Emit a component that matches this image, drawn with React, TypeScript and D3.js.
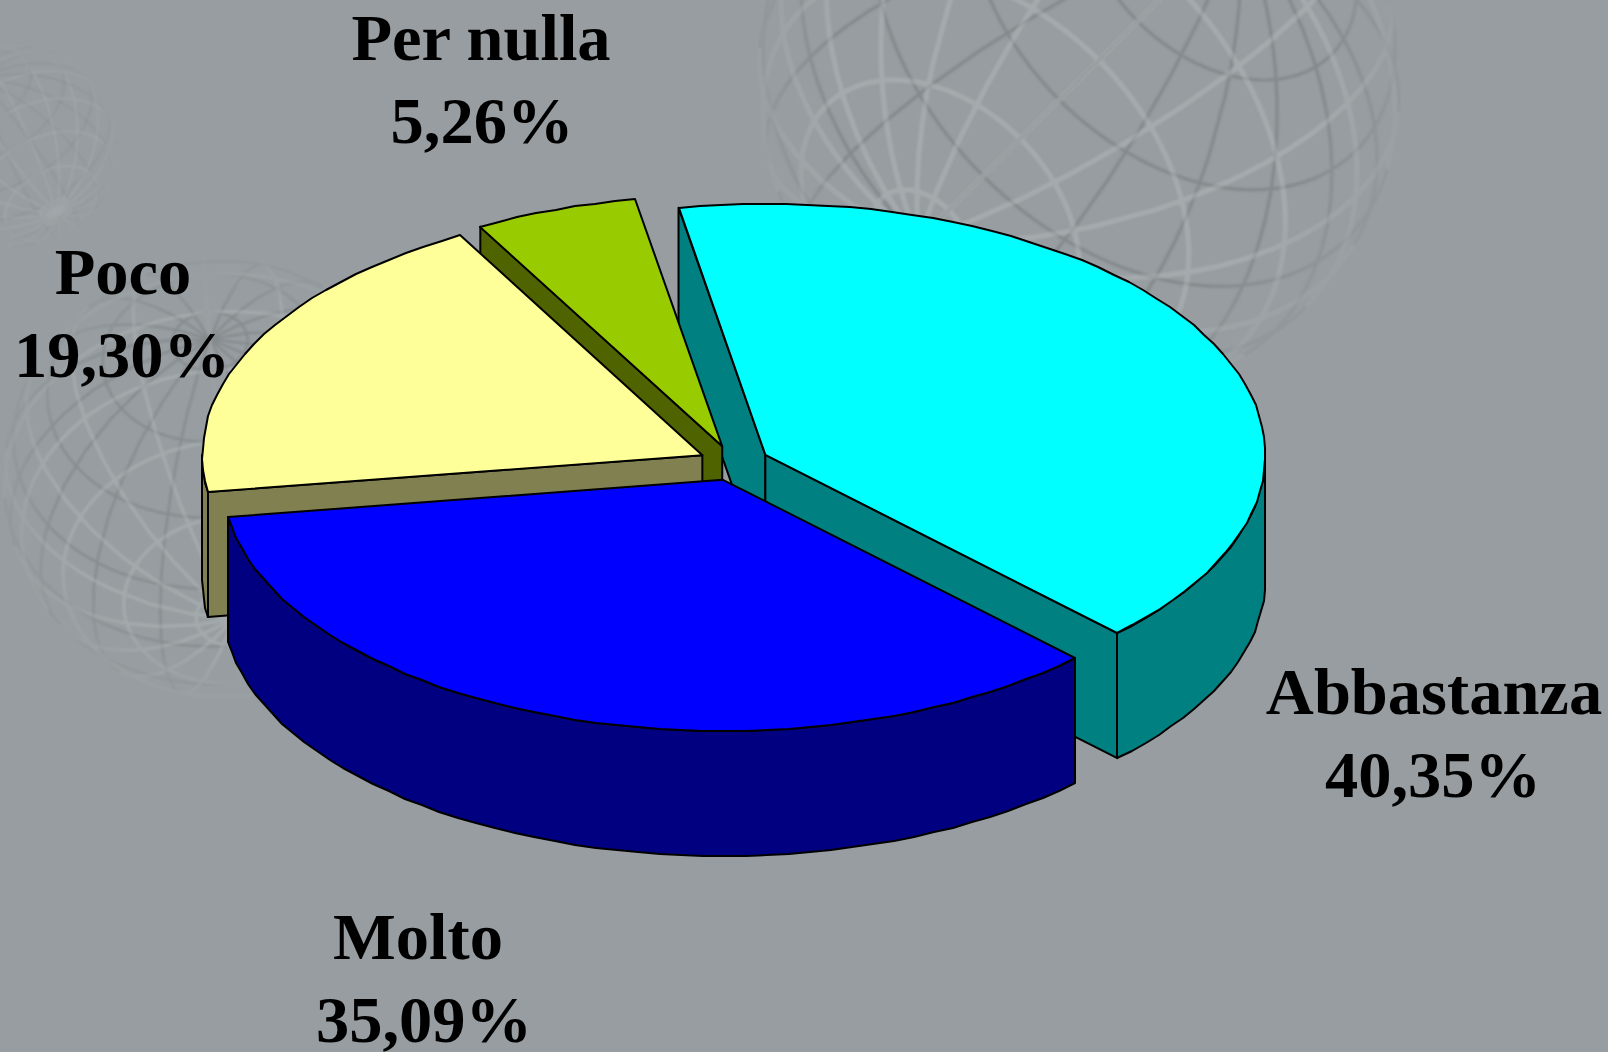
import React from "react";
import * as d3 from "d3";

const categories = ["Abbastanza", "Molto", "Poco", "Per nulla"];
const values = [40.35, 35.09, 19.3, 5.26];
const valueLabels = ["40,35%", "35,09%", "19,30%", "5,26%"];
const topColors = ["#00FFFF", "#0000FF", "#FFFF99", "#99CC00"];
const sideColors = ["#008080", "#000080", "#808050", "#4F6300"];
// painter's order: back slices first
const drawOrder = [0, 3, 2, 1];

const W = 1608, H = 1052;
const CX = 734, CY = 463, RX = 500, RY = 251, DEPTH = 125, EXPLODE = 0.0706;
const labelPos = [
  { x: 1434, y: 714, dx2: -1 },
  { x: 418, y: 959, dx2: 6 },
  { x: 123, y: 294, dx2: -1 },
  { x: 481, y: 60, dx2: 1 },
];
const globes = [
  { cx: 1079, cy: 80, r: 321, rotate: [0, 45, -45], o: 1 },
  { cx: 222, cy: 479, r: 218, rotate: [20, 50, 5], o: 0.95 },
  { cx: 18, cy: 146, r: 100, rotate: [10, 40, 30], o: 0.7 },
];

const rad = (d: number) => (d * Math.PI) / 180;
const line = d3.line();
const pie = d3.pie<number>().sort(null).startAngle(rad(-10)).endAngle(rad(350));
const arcs = pie(values);

function rimPoints(cx: number, cy: number, a0: number, a1: number, dy = 0): [number, number][] {
  const n = Math.max(1, Math.ceil((a1 - a0) / rad(2.5)));
  return d3.range(n + 1).map((i) => {
    const a = a0 + ((a1 - a0) * i) / n;
    return [Math.round(cx + RX * Math.sin(a)), Math.round(cy - RY * Math.cos(a) + dy)] as [number, number];
  });
}

function Slice({ i }: { i: number }) {
  const { startAngle: a0, endAngle: a1 } = arcs[i];
  const mid = (a0 + a1) / 2;
  const cx = CX + EXPLODE * RX * Math.sin(mid);
  const cy = CY - EXPLODE * RY * Math.cos(mid);
  const rim = rimPoints(cx, cy, a0, a1);
  const top = line([[cx, cy], ...rim])! + "Z";
  const face = (a: number) => {
    const p: [number, number] = [cx + RX * Math.sin(a), cy - RY * Math.cos(a)];
    return line([[cx, cy], p, [p[0], p[1] + DEPTH], [cx, cy + DEPTH]])! + "Z";
  };
  const facesViewer = (normal: number) => Math.cos(normal) < 0;
  const w0 = Math.max(a0, rad(90));
  const w1 = Math.min(a1, rad(270));
  const stroke = { stroke: "#000", strokeWidth: 2, strokeLinejoin: "round" as const };
  return (
    <g>
      {facesViewer(a0 - Math.PI / 2) && <path d={face(a0)} fill={sideColors[i]} {...stroke} />}
      {facesViewer(a1 + Math.PI / 2) && <path d={face(a1)} fill={sideColors[i]} {...stroke} />}
      {w1 > w0 && (
        <path
          d={line([...rimPoints(cx, cy, w0, w1), ...rimPoints(cx, cy, w0, w1, DEPTH).reverse()])! + "Z"}
          fill={sideColors[i]}
          {...stroke}
        />
      )}
      <path d={top} fill={topColors[i]} {...stroke} />
    </g>
  );
}

function Globe({ g, id }: { g: (typeof globes)[number]; id: string }) {
  const grat = d3.geoGraticule().step([20, 20])();
  const front = d3.geoOrthographic().scale(g.r).translate([g.cx, g.cy]).rotate(g.rotate as any).clipAngle(90);
  const back = d3
    .geoOrthographic()
    .scale(g.r)
    .translate([g.cx, g.cy])
    .rotate([g.rotate[0] + 180, -g.rotate[1], -g.rotate[2]] as any)
    .reflectX(true)
    .clipAngle(90);
  return (
    <g opacity={g.o} mask={`url(#${id})`}>
      <path d={d3.geoPath(back)(grat)!} fill="none" stroke="#6e7477" strokeOpacity={0.45} strokeWidth={g.r / 100} filter="url(#soft)" />
      <path d={d3.geoPath(front)(grat)!} fill="none" stroke="#c0c6c9" strokeOpacity={0.32} strokeWidth={g.r / 60} filter="url(#soft)" />
    </g>
  );
}

export default function App() {
  return (
    <svg width={W} height={H} viewBox={`0 0 ${W} ${H}`} style={{ position: "absolute", left: 0, top: 0, display: "block" }}>
      <defs>
        <filter id="soft" x="-10%" y="-10%" width="120%" height="120%">
          <feGaussianBlur stdDeviation={0.9} />
        </filter>
        <radialGradient id="fade">
          <stop offset="0.75" stopColor="#fff" />
          <stop offset="1" stopColor="#fff" stopOpacity={0.25} />
        </radialGradient>
        {globes.map((g, k) => (
          <mask key={k} id={`gm${k}`} maskUnits="userSpaceOnUse" x={0} y={0} width={W} height={H}>
            <circle cx={g.cx} cy={g.cy} r={g.r + 2} fill="url(#fade)" />
          </mask>
        ))}
      </defs>
      <rect width={W} height={H} fill="#979DA0" />
      {globes.map((g, k) => (
        <Globe key={k} g={g} id={`gm${k}`} />
      ))}
      {drawOrder.map((i) => (
        <Slice key={i} i={i} />
      ))}
      {categories.map((c, i) => (
        <text
          key={c}
          textAnchor="middle"
          fontFamily="'Liberation Serif', serif"
          fontWeight="bold"
          fontSize={66.5}
          fill="#000"
        >
          <tspan x={labelPos[i].x} y={labelPos[i].y}>{c}</tspan>
          <tspan x={labelPos[i].x + labelPos[i].dx2} y={labelPos[i].y + 83}>{valueLabels[i]}</tspan>
        </text>
      ))}
    </svg>
  );
}
